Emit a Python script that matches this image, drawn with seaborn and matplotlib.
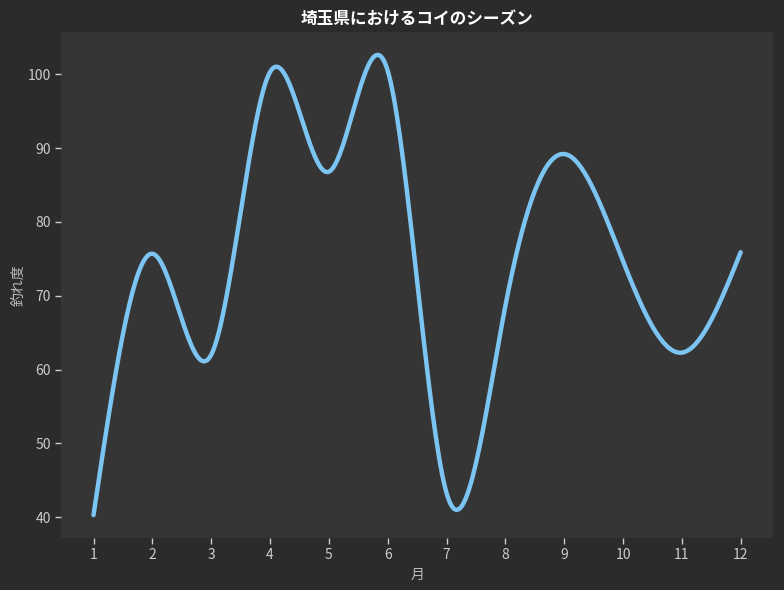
import numpy as np
import pandas as pd
import matplotlib
matplotlib.use("Agg")
import matplotlib.pyplot as plt
import seaborn as sns

# ============ DATA ============
months = [1, 2, 3, 4, 5, 6, 7, 8, 9, 10, 11, 12]
catch_rate = [40.3, 75.7, 62.0, 100.3, 86.8, 100.5, 43.3, 68.6, 89.2, 74.7, 62.3, 75.9]

TITLE = "埼玉県におけるコイのシーズン"
XLABEL = "月"
YLABEL = "釣れ度"


# natural cubic spline, only for drawing the smooth line
def smooth_curve(x, y, n=400):
    x = np.asarray(x, float)
    y = np.asarray(y, float)
    m = len(x)
    h = np.diff(x)
    A = np.zeros((m, m))
    b = np.zeros(m)
    A[0, 0] = 1.0
    A[-1, -1] = 1.0
    for i in range(1, m - 1):
        A[i, i - 1] = h[i - 1]
        A[i, i] = 2 * (h[i - 1] + h[i])
        A[i, i + 1] = h[i]
        b[i] = 6 * ((y[i + 1] - y[i]) / h[i] - (y[i] - y[i - 1]) / h[i - 1])
    M = np.linalg.solve(A, b)
    xs = np.linspace(x[0], x[-1], n)
    idx = np.clip(np.searchsorted(x, xs) - 1, 0, m - 2)
    x0, x1 = x[idx], x[idx + 1]
    hh = x1 - x0
    ys = (M[idx] * (x1 - xs) ** 3 / (6 * hh) + M[idx + 1] * (xs - x0) ** 3 / (6 * hh)
          + (y[idx] / hh - M[idx] * hh / 6) * (x1 - xs)
          + (y[idx + 1] / hh - M[idx + 1] * hh / 6) * (xs - x0))
    return xs, ys


xs, ys = smooth_curve(months, catch_rate)
df = pd.DataFrame({"month": xs, "score": ys})

# ============ STYLE ============
sns.set_theme(style="dark", rc={
    "figure.facecolor": "#2b2b2b",
    "axes.facecolor": "#353535",
    "axes.edgecolor": "#353535",
    "text.color": "#cccccc",
    "axes.labelcolor": "#cccccc",
    "xtick.color": "#cccccc",
    "ytick.color": "#cccccc",
    "xtick.bottom": True,
    "ytick.left": True,
})
plt.rcParams["font.family"] = ["Noto Sans CJK JP", "DejaVu Sans"]

fig = plt.figure(figsize=(7.84, 5.9), dpi=100)
ax = fig.add_axes([0.078, 0.088, 0.908, 0.858])

sns.lineplot(data=df, x="month", y="score", color="#7cc4f2", linewidth=3.2, ax=ax)

ax.set_xticks(months)
ax.set_xlabel(XLABEL, fontsize=10, color="#bbbbbb")
ax.set_ylabel(YLABEL, fontsize=10, color="#bbbbbb", labelpad=1)
ax.set_title(TITLE, fontsize=12, fontweight="bold", color="white", pad=6)
ax.tick_params(axis="both", labelsize=10, length=4, width=1, colors="#cccccc")
for s in ax.spines.values():
    s.set_visible(False)

fig.savefig("out.png", dpi=100, facecolor=fig.get_facecolor())
